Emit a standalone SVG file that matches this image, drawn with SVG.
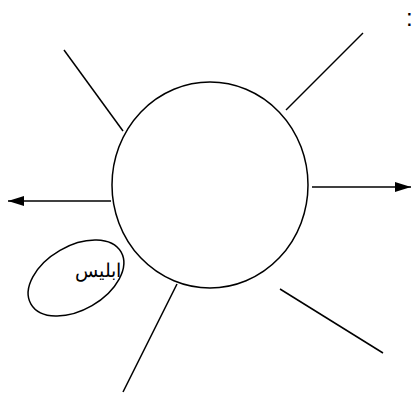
<svg xmlns="http://www.w3.org/2000/svg" width="415" height="399" viewBox="0 0 415 399">
<style>
.ln{stroke:#000;stroke-width:1.5;fill:none}
.t{font-family:"Liberation Sans","Noto Sans",Arial,sans-serif;fill:#000}
</style>
<defs>
<marker id="ah" markerWidth="16" markerHeight="10" refX="16" refY="5" orient="auto" markerUnits="userSpaceOnUse">
<path d="M0,0 L16,5 L0,10 Z" fill="#000"/>
</marker>
</defs>
<rect width="415" height="399" fill="#fff"/>
<g id="connectors">
<line class="ln" x1="64" y1="50" x2="123" y2="131"/>
<line class="ln" x1="363" y1="33" x2="286" y2="110"/>
<line class="ln" x1="312" y1="187" x2="411" y2="187" marker-end="url(#ah)"/>
<line class="ln" x1="111" y1="201" x2="8" y2="201" marker-end="url(#ah)"/>
<line class="ln" x1="280" y1="289" x2="383" y2="353"/>
<line class="ln" x1="177" y1="284" x2="123" y2="392"/>
</g>
<g id="center">
<ellipse class="ln" cx="210" cy="185" rx="98" ry="103"/>
</g>
<g id="iblis">
<ellipse class="ln" cx="76" cy="278" rx="52" ry="32" transform="rotate(-30 76 278)"/>
<text class="t" x="98" y="277" font-size="19" text-anchor="middle">ابليس</text>
</g>
<g id="colon">
<text class="t" x="406" y="26" font-size="24">:</text>
</g>
</svg>
